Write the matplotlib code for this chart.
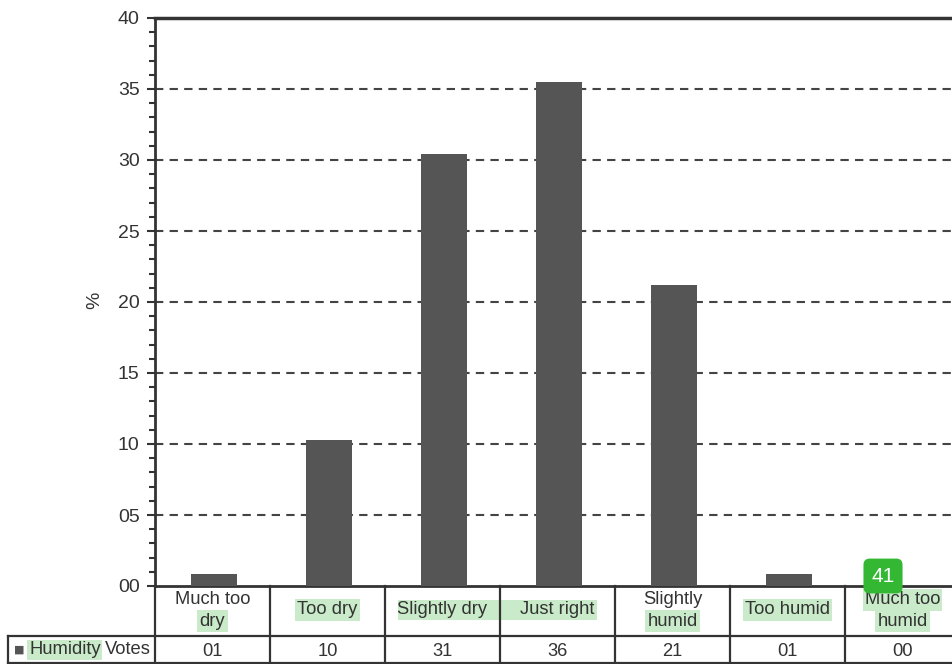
import numpy as np
import matplotlib.pyplot as plt
import matplotlib.transforms as mtransforms
from matplotlib.patches import Rectangle

plt.rcParams['font.family'] = ['Liberation Sans', 'DejaVu Sans']

# data
categories = [["Much too", "dry"], ["Too dry"], ["Slightly dry"], ["Just right"],
              ["Slightly", "humid"], ["Too humid"], ["Much too", "humid"]]
# which line of each label is highlighted
highlight = [[False, True], [True], [False], [False], [False, True], [True], [True, True]]
votes = [0.85, 10.25, 30.45, 35.5, 21.2, 0.85, 0.0]
vote_labels = ["01", "10", "31", "36", "21", "01", "00"]
yticks = [0, 5, 10, 15, 20, 25, 30, 35, 40]
ytick_labels = ["00", "05", "10", "15", "20", "25", "30", "35", "40"]

W, H = 953, 664
fig = plt.figure(figsize=(W / 100, H / 100), dpi=100)
ax_h = 586 - 18
ax = fig.add_axes([155 / W, 1 - 586 / H, 805 / W, ax_h / H])

dark = "#333333"
green = "#c9ebc9"
fs = 13.2
x = np.arange(len(votes))
ax.bar(x + 0.015, votes, width=0.4, color="#555555", zorder=3)
ax.set_xlim(-0.5, len(votes) - 0.5)
ax.set_ylim(0, 40)
ax.set_yticks(yticks)
ax.set_yticklabels(ytick_labels, fontsize=14, color=dark)
ax.set_yticks(np.arange(0, 41, 1), minor=True)
ax.tick_params(axis='y', which='major', length=6, width=1.5, color=dark, pad=5)
ax.tick_params(axis='y', which='minor', length=4.5, width=1.5, color=dark)
ax.set_xticks([])
ax.set_ylabel("%", fontsize=14, color=dark)
ax.yaxis.set_label_coords(-52 / 805, 0.503)
for yv in yticks[1:-1]:
    ax.axhline(yv, color="#444444", lw=1.5, ls=(0, (4, 3)), zorder=1)
for s in ["left", "bottom"]:
    ax.spines[s].set_linewidth(2)
    ax.spines[s].set_color(dark)
ax.spines["top"].set_linewidth(2.5)
ax.spines["top"].set_color(dark)
ax.spines["right"].set_visible(False)

# table below the axes: x in data units, y in axes fraction
tr = mtransforms.blended_transform_factory(ax.transData, ax.transAxes)
def py(px):
    return -(px - 586) / ax_h
def dx(px):
    return (px - 155) / 115 - 0.5

lw = 1.6
xl = dx(8)
right = len(votes) - 0.5
ax.plot([xl, right], [py(636), py(636)], color=dark, lw=lw, transform=tr, clip_on=False)
ax.plot([xl, right], [py(663), py(663)], color=dark, lw=lw, transform=tr, clip_on=False)
ax.plot([xl, xl], [py(636), py(663)], color=dark, lw=lw, transform=tr, clip_on=False)
for i in range(len(votes) + 1):
    xb = i - 0.5
    ax.plot([xb, xb], [py(586), py(663)], color=dark, lw=lw, transform=tr,
            clip_on=False, zorder=6)

# continuous highlight band over "Slightly dry" / "Just right"
ax.add_patch(Rectangle((dx(398), py(620)), dx(597) - dx(398), py(600) - py(620),
                       transform=tr, fc=green, ec="none", clip_on=False, zorder=4))

for i, (lines, hl) in enumerate(zip(categories, highlight)):
    if len(lines) == 1:
        ys = [610]
    else:
        ys = [600, 621]
    for line, h, yy in zip(lines, hl, ys):
        bb = dict(boxstyle="square,pad=0.12", fc=green, ec="none") if h else None
        ax.text(i, py(yy), line, transform=tr, ha="center", va="center",
                fontsize=fs, color=dark, bbox=bb, zorder=5)
    ax.text(i, py(651), vote_labels[i], transform=tr, ha="center", va="center",
            fontsize=fs, color=dark)

# row label
ax.text(dx(14), py(650), "\u25a0", transform=tr, ha="left", va="center", fontsize=8,
        color="#555555", family="DejaVu Sans")
ax.text(dx(29), py(650), "Humidity", transform=tr, ha="left", va="center",
        fontsize=fs, color=dark,
        bbox=dict(boxstyle="square,pad=0.1", fc=green, ec="none"))
ax.text(dx(105), py(650), "Votes", transform=tr, ha="left", va="center",
        fontsize=fs, color=dark)

# green badge
fig.text(883 / W, 1 - 576 / H, "41", ha="center", va="center", fontsize=15,
         color="white",
         bbox=dict(boxstyle="round,pad=0.38,rounding_size=0.3", fc="#34b834", ec="none"))

fig.savefig("out.png", dpi=100)
